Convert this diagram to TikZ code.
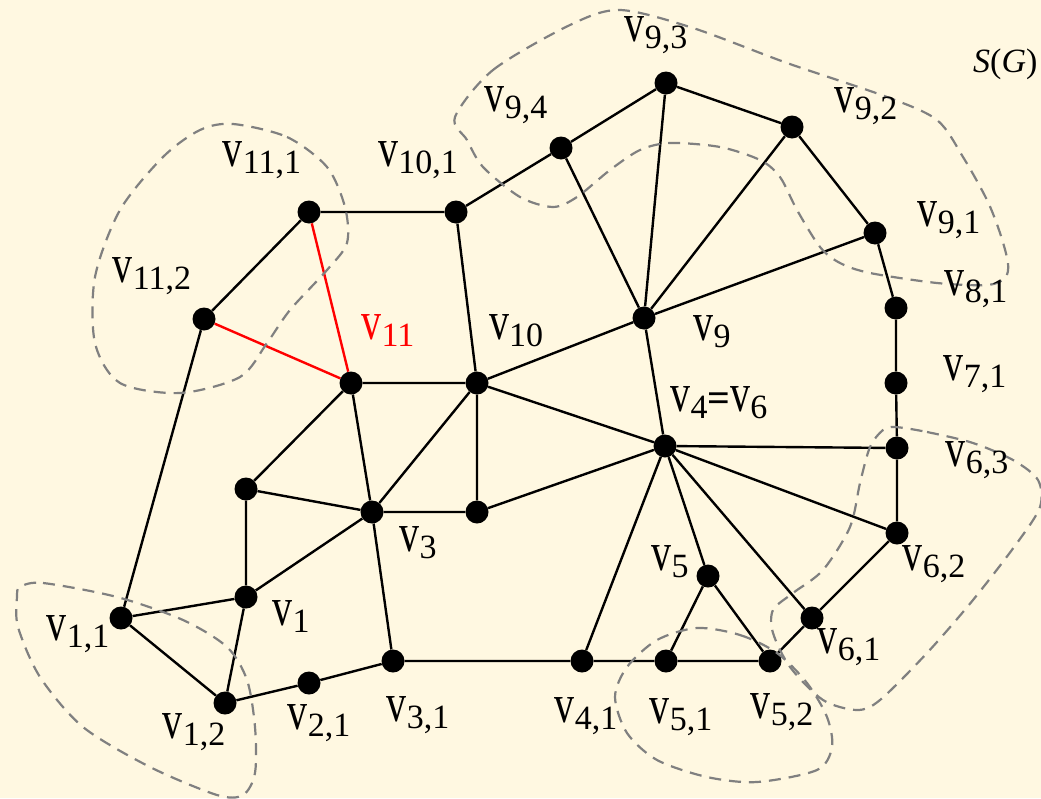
\documentclass[tikz,border=0pt]{standalone}
\usepackage{fontspec}
\setmainfont{Liberation Serif}
\usepackage{graphicx}
\definecolor{fond}{RGB}{255,248,225}
\definecolor{zone}{RGB}{128,128,128}
\newcommand{\vsub}[1]{\scalebox{1}[1.36]{v}\raisebox{-7pt}{\fontsize{34}{34}\selectfont #1}}
\tikzset{
  sommet/.style={circle, fill=black, inner sep=0pt, minimum size=23pt},
  etiq/.style={inner sep=0pt, font=\fontsize{40}{40}\selectfont},
  arete/.style={line width=2.4pt},
  zonedash/.style={draw=zone, line width=2.2pt, dash pattern=on 12pt off 8pt},
}
\begin{document}
\begin{tikzpicture}[x=1pt, y=-1pt]
    \fill[fond] (0,0) rectangle (1041,798);
    \useasboundingbox (0,0) rectangle (1041,798);

    % Sommets
    \node[sommet] (v111) at (309,212) {};
    \node[sommet] (v112) at (204,319) {};
    \node[sommet] (v101) at (456,212) {};
    \node[sommet] (v94) at (561,148) {};
    \node[sommet] (v93) at (666,83) {};
    \node[sommet] (v92) at (792,127) {};
    \node[sommet] (v91) at (875,233) {};
    \node[sommet] (v81) at (896,308) {};
    \node[sommet] (v71) at (896,383) {};
    \node[sommet] (v63) at (897,448) {};
    \node[sommet] (v62) at (897,533) {};
    \node[sommet] (v61) at (812,618) {};
    \node[sommet] (v52) at (770,661) {};
    \node[sommet] (v51) at (666,661) {};
    \node[sommet] (v41) at (582,661) {};
    \node[sommet] (v31) at (393,661) {};
    \node[sommet] (v21) at (309,683) {};
    \node[sommet] (v12) at (225,703) {};
    \node[sommet] (v11a) at (121,618) {};
    \node[sommet] (v11) at (351,383) {};
    \node[sommet] (v10) at (477,383) {};
    \node[sommet] (v9) at (644,318) {};
    \node[sommet] (v4) at (665,446) {};
    \node[sommet] (v5) at (708,576) {};
    \node[sommet] (v3) at (372,512) {};
    \node[sommet] (v1) at (246,597) {};
    \node[sommet] (va) at (246,489) {};
    \node[sommet] (vb) at (477,512) {};

    % Aretes
    \draw[arete] (v111) -- (v101) -- (v94) -- (v93) -- (v92) -- (v91) -- (v81)
        -- (v71) -- (v63) -- (v62) -- (v61) -- (v52) -- (v51) -- (v41) -- (v31)
        -- (v21) -- (v12) -- (v11a) -- (v112) -- (v111);
    \draw[arete, red] (v111) -- (v11) -- (v112);
    \draw[arete] (v11) -- (v10) -- (v101);
    \draw[arete] (v11) -- (v3) -- (v31);
    \draw[arete] (v11) -- (va) -- (v1) -- (v3) -- (va);
    \draw[arete] (v1) -- (v11a);
    \draw[arete] (v1) -- (v12);
    \draw[arete] (v10) -- (v3) -- (vb) -- (v10);
    \draw[arete] (vb) -- (v4) -- (v10) -- (v9) -- (v4);
    \foreach \s in {v94,v93,v92,v91} \draw[arete] (v9) -- (\s);
    \foreach \s in {v63,v62,v61,v5,v41} \draw[arete] (v4) -- (\s);
    \draw[arete] (v51) -- (v5) -- (v52);

    % Zones
    \draw[zonedash] plot[smooth cycle] coordinates {(233,124) (287,137) (327,167)
        (345,207) (347,243) (327,270) (290,310) (267,343) (240,377) (180,393)
        (120,383) (95,343) (95,277) (120,210) (163,157) (200,130)};
    \draw[zonedash] plot[smooth cycle] coordinates {(455,117) (493,70) (570,25)
        (620,10) (693,28) (787,63) (887,97) (937,120) (963,157) (987,200)
        (1000,233) (1008,263) (1005,278) (987,285) (937,283) (870,273) (840,263)
        (820,247) (797,210) (780,177) (760,160) (720,147) (670,143) (640,150)
        (610,170) (577,197) (553,207) (520,197) (483,167) (467,140)};
    \draw[zonedash] plot[smooth cycle] coordinates {(895,427) (927,432) (973,443)
        (1013,460) (1038,480) (1040,507) (1017,543) (973,600) (927,653) (880,700)
        (857,710) (823,700) (790,667) (773,633) (773,610) (793,593) (823,570)
        (850,527) (860,483) (870,447) (883,430)};
    \draw[zonedash] plot[smooth cycle] coordinates {(697,628) (740,635) (777,653)
        (807,683) (827,717) (832,747) (817,770) (757,782) (707,777) (657,760)
        (627,733) (615,697) (627,667) (657,640)};
    \draw[zonedash] plot[smooth cycle] coordinates {(20,587) (43,583) (117,597)
        (183,620) (227,647) (247,680) (255,727) (255,773) (243,795) (217,795)
        (150,767) (83,727) (40,677) (18,627) (17,597)};

    % Etiquettes
    \node[etiq] at (262,160) {\vsub{11,1}};
    \node[etiq] at (152,276) {\vsub{11,2}};
    \node[etiq] at (418,160) {\vsub{10,1}};
    \node[etiq] at (516,105) {\vsub{9,4}};
    \node[etiq] at (656,35) {\vsub{9,3}};
    \node[etiq] at (866,106) {\vsub{9,2}};
    \node[etiq] at (949,220) {\vsub{9,1}};
    \node[etiq] at (976,289) {\vsub{8,1}};
    \node[etiq] at (975,374) {\vsub{7,1}};
    \node[etiq] at (977,460) {\vsub{6,3}};
    \node[etiq] at (934,564) {\vsub{6,2}};
    \node[etiq] at (849,647) {\vsub{6,1}};
    \node[etiq] at (782,712) {\vsub{5,2}};
    \node[etiq] at (681,717) {\vsub{5,1}};
    \node[etiq] at (586,716) {\vsub{4,1}};
    \node[etiq] at (418,715) {\vsub{3,1}};
    \node[etiq] at (319,723) {\vsub{2,1}};
    \node[etiq] at (194,732) {\vsub{1,2}};
    \node[etiq] at (78,634) {\vsub{1,1}};
    \node[etiq] at (291,617) {\vsub{1}};
    \node[etiq] at (418,543) {\vsub{3}};
    \node[etiq] at (670,562) {\vsub{5}};
    \node[etiq] at (719,403) {\vsub{4}\textbf{=}\vsub{6}};
    \node[etiq] at (712,332) {\vsub{9}};
    \node[etiq] at (516,331) {\vsub{10}};
    \node[etiq, red] at (388,331) {\vsub{11}};
    \node[etiq, anchor=base west, font=\fontsize{34}{34}\selectfont] at (973,72) {\textit{S}(\textit{G})};
\end{tikzpicture}
\end{document}
